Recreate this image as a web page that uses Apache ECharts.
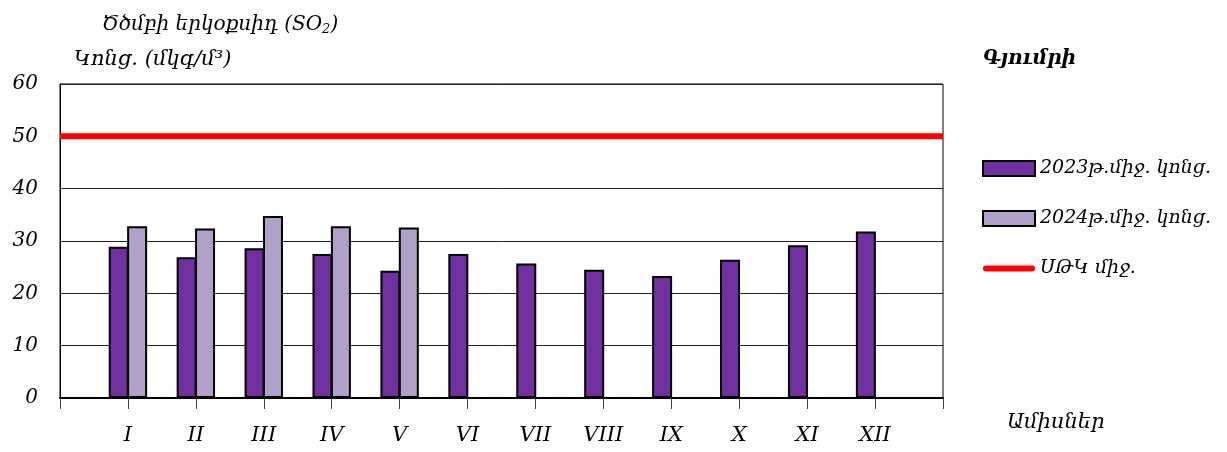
<!DOCTYPE html>
<html><head><meta charset="utf-8">
<script src="https://cdn.jsdelivr.net/npm/echarts@6/dist/echarts.min.js"></script>
<style>html,body{margin:0;padding:0;background:#fff}#c{width:1227px;height:452px}</style>
</head><body><div id="c"></div>
<script>
const months = ['I','II','III','IV','V','VI','VII','VIII','IX','X','XI','XII'];
const conc2023 = [28.9, 26.9, 28.6, 27.5, 24.3, 27.5, 25.7, 24.5, 23.3, 26.4, 29.2, 31.8];
const conc2024 = [32.8, 32.4, 34.8, 32.8, 32.6];
const limitValue = 50;
const yTicks = [0, 10, 20, 30, 40, 50, 60];
const seriesNames = ['2023թ.միջ. կոնց.', '2024թ.միջ. կոնց.', 'ՍԹԿ միջ.'];

const cats = [''].concat(months, ['']);
const s2023 = [null].concat(conc2023, new Array(13 - conc2023.length).fill(null));
const s2024 = [null].concat(conc2024, new Array(13 - conc2024.length).fill(null));
const sLimit = cats.map(() => limitValue);
const FONT = '"DejaVu Serif", serif';

const chart = echarts.init(document.getElementById('c'));
chart.setOption({
  animation: false,
  backgroundColor: '#fff',
  textStyle: {fontFamily: FONT},
  grid: {left: 60, right: 284, top: 84, bottom: 54, show: true, borderColor: '#000', borderWidth: 1, containLabel: false},
  title: [
    {text: '{a|Ծծմբի երկօքսիդ (SO}{s|2}{a|)}', left: 97, top: 8,
     textStyle: {fontWeight: 'normal', rich: {a: {fontSize: 20, fontStyle: 'italic', fontWeight: 'normal', fontFamily: FONT, color: '#000'},
                        s: {fontSize: 13, fontStyle: 'italic', fontWeight: 'normal', fontFamily: FONT, color: '#000', verticalAlign: 'bottom', padding: [10,0,0,0]}}}},
    {text: 'Կոնց. (մկգ/մ³)', left: 69, top: 44, textStyle: {fontSize: 21, fontStyle: 'italic', fontWeight: 'normal', fontFamily: FONT, color: '#000'}},
    {text: 'Գյումրի', left: 978, top: 44, textStyle: {fontSize: 20, fontStyle: 'italic', fontWeight: 'bold', fontFamily: FONT, color: '#000'}},
    {text: 'Ամիսներ', left: 1002, top: 407, textStyle: {fontSize: 21, fontStyle: 'italic', fontWeight: 'normal', fontFamily: FONT, color: '#000'}}
  ],
  legend: {
    orient: 'vertical', left: 977, top: 154, itemGap: 31, itemWidth: 52, itemHeight: 15,
    textStyle: {fontSize: 19, fontStyle: 'italic', fontFamily: FONT, color: '#000'},
    data: [
      {name: seriesNames[0], icon: 'rect'},
      {name: seriesNames[1], icon: 'rect'},
      {name: seriesNames[2], icon: 'path://M3,0 H49 A3,3 0 0 1 49,6 H3 A3,3 0 0 1 3,0 Z', itemStyle: {color: '#FF0000', borderWidth: 0}}
    ]
  },
  xAxis: {
    type: 'category', data: cats, boundaryGap: false,
    axisLine: {lineStyle: {color: '#000', width: 2}},
    axisTick: {show: true, length: 11, alignWithLabel: true, lineStyle: {color: '#444'}},
    axisLabel: {fontSize: 21, fontStyle: 'italic', fontFamily: FONT, color: '#000', margin: 27, interval: 0},
    splitLine: {show: false}
  },
  yAxis: {
    type: 'value', min: yTicks[0], max: yTicks[yTicks.length - 1], interval: 10,
    axisLine: {show: true, lineStyle: {color: '#000', width: 1}},
    axisTick: {show: false},
    axisLabel: {fontSize: 20, fontStyle: 'italic', fontFamily: FONT, color: '#000', margin: 22},
    splitLine: {lineStyle: {color: '#222', width: 1}}
  },
  series: [
    {name: seriesNames[0], type: 'bar', data: s2023, barWidth: 20, barGap: '-8%',
     itemStyle: {color: '#7030A0', borderColor: '#000', borderWidth: 2}},
    {name: seriesNames[1], type: 'bar', data: s2024, barWidth: 20, barGap: '-8%',
     itemStyle: {color: '#B1A0C7', borderColor: '#000', borderWidth: 2}},
    {name: seriesNames[2], type: 'line', data: sLimit, symbol: 'none', z: 5,
     lineStyle: {color: '#FF0000', width: 6}, itemStyle: {color: '#FF0000'}}
  ]
});
</script></body></html>
